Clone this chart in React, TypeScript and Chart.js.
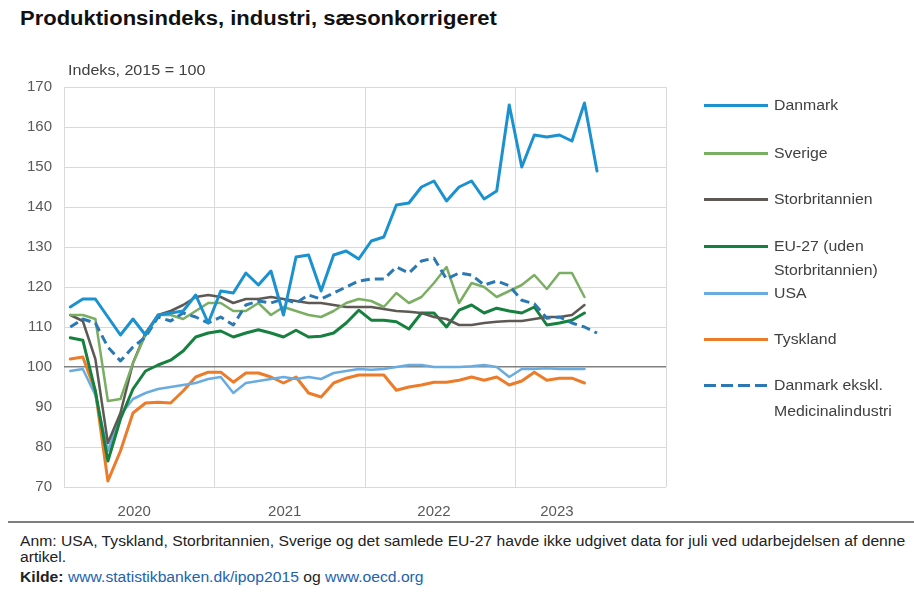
import React, { useEffect, useRef } from "react";
import { Chart, registerables } from "chart.js";

Chart.register(...registerables);

const FONT = '"Liberation Sans", Arial, sans-serif';

const titleText = "Produktionsindeks, industri, sæsonkorrigeret";
const unitText = "Indeks, 2015 = 100";
const noteText1 =
  "Anm: USA, Tyskland, Storbritannien, Sverige og det samlede EU-27 havde ikke udgivet data for juli ved udarbejdelsen af denne";
const noteText2 = "artikel.";
const sourceLabel = "Kilde: ";
const sourceLink1 = "www.statistikbanken.dk/ipop2015";
const sourceMid = " og ";
const sourceLink2 = "www.oecd.org";

// x axis: months since Jan 2020 (0..48), year boundaries and year label positions
const yearLabels = ["2020", "2021", "2022", "2023"];
const yearLabelPos = [5.6, 17.6, 29.5, 39.3];
const yearBoundaries = [0, 12, 24, 36, 48];
const yMin = 70;
const yMax = 170;
const yStep = 10;
const baseLine = 100;

// Monthly values, Jan 2020 onward
const danmark = [
  115, 117, 117, 112.5, 108, 112, 108, 113, 113.5, 114, 118, 111,
  119, 118.5, 123.5, 120.5, 124, 113, 127.5, 128, 119, 128, 129, 127,
  131.5, 132.5, 140.5, 141, 145, 146.5, 141.5, 145, 146.5, 142, 144, 165.5,
  150, 158, 157.5, 158, 156.5, 166, 149,
];
const sverige = [
  113, 113, 112, 91.5, 92, 101, 108, 113, 113, 112, 114, 116,
  116, 114, 114, 116, 113, 115, 114, 113, 112.5, 114, 116, 117,
  116.5, 115, 118.5, 116, 117.5, 121, 125, 116, 121, 120, 117.5, 119,
  120.5, 123, 119.5, 123.5, 123.5, 117.5,
];
const storbritannien = [
  113, 111.5, 102, 81, 88.5, 101, 108.5, 113, 114, 115.5, 117.5, 118,
  117.5, 116, 117, 117, 117.5, 117, 116.5, 116, 116, 115.5, 115, 115,
  115, 114.5, 114, 113.8, 113.5, 112.5, 112, 110.5, 110.5, 111, 111.3, 111.5,
  111.5, 112, 112.5, 112.5, 113, 115.5,
];
const eu27 = [
  107.3, 106.7, 94, 76.5, 87, 94.5, 99, 100.5, 101.7, 104, 107.5, 108.5,
  109, 107.5, 108.5, 109.3, 108.5, 107.5, 109.2, 107.5, 107.7, 108.5, 111, 114.2,
  111.7, 111.7, 111.3, 109.5, 113.5, 113.5, 110, 114.2, 115.5, 113.5, 114.7, 114,
  113.5, 115, 110.5, 111, 111.7, 113.5,
];
const usa = [
  99, 99.5, 93, 79, 88, 92, 93.5, 94.5, 95, 95.5, 96, 97,
  97.5, 93.5, 96, 96.5, 97, 97.5, 97, 97.5, 97, 98.5, 99, 99.5,
  99.3, 99.5, 100, 100.5, 100.5, 100, 100, 100, 100.2, 100.5, 100, 97.5,
  99.5, 99.5, 99.7, 99.5, 99.5, 99.5,
];
const tyskland = [
  102, 102.5, 94, 71.5, 79, 88.5, 91, 91.2, 91, 94, 97.5, 98.7,
  98.7, 96.2, 98.5, 98.5, 97.5, 96, 97.5, 93.5, 92.5, 96, 97.2, 98,
  98, 98, 94.2, 95, 95.5, 96.2, 96.2, 96.7, 97.5, 96.7, 97.5, 95.5,
  96.5, 98.7, 96.7, 97.2, 97.2, 96,
];
const danmarkEksMedicin = [
  110, 112, 111, 105, 101.5, 105, 107.5, 112.5, 111.5, 113.5, 112.5, 111,
  112.5, 110.5, 115.5, 116.5, 116, 117, 116, 118, 117, 118.5, 120, 121.5,
  122, 122, 125, 123.5, 126.5, 127.2, 122, 123.5, 123, 120.5, 121.5, 120.3,
  116.7, 115.8, 112.2, 112.5, 111, 110, 108.5,
];

const seriesNames = [
  "Danmark",
  "Sverige",
  "Storbritannien",
  "EU-27 (uden Storbritannien)",
  "USA",
  "Tyskland",
  "Danmark ekskl. Medicinalindustri",
];
const seriesValues = [danmark, sverige, storbritannien, eu27, usa, tyskland, danmarkEksMedicin];
const seriesColors = ["#1B91D0", "#7AAE62", "#5E5955", "#16803F", "#6AACE0", "#EC7B2A", "#2A78B4"];
const seriesWidths = [3, 2.5, 2.5, 3, 2.5, 3, 3];
const seriesDashed = [false, false, false, false, false, false, true];

// legend layout (text lines per entry)
const legendLines = [
  ["Danmark"],
  ["Sverige"],
  ["Storbritannien"],
  ["EU-27 (uden", "Storbritannien)"],
  ["USA"],
  ["Tyskland"],
  ["Danmark ekskl.", "Medicinalindustri"],
];
const legendY = [105, 153, 199, 246, 293, 339, 385];
const legendLineGap = [0, 0, 0, 24, 0, 0, 26];

const stretch = (sx: number): React.CSSProperties => ({
  transform: `scaleX(${sx})`,
  transformOrigin: "left center",
});

export default function App() {
  const canvasRef = useRef<HTMLCanvasElement | null>(null);

  useEffect(() => {
    const canvas = canvasRef.current;
    if (!canvas) return;
    const datasets = seriesValues.map((vals, k) => ({
      label: seriesNames[k],
      data: vals.map((v, i) => ({ x: i + 0.5, y: v })),
      borderColor: seriesColors[k],
      backgroundColor: seriesColors[k],
      borderWidth: seriesWidths[k],
      borderDash: seriesDashed[k] ? [9, 5] : [],
      borderCapStyle: seriesDashed[k] ? "butt" : "round",
      borderJoinStyle: "round",
      pointRadius: 0,
      tension: 0,
      fill: false,
      order: k === 0 ? 0 : k === 6 ? 1 : 2,
    }));

    const tickVals = [...yearBoundaries, ...yearLabelPos].sort((a, b) => a - b);

    const chart = new Chart(canvas, {
      type: "line",
      data: { datasets: datasets as any },
      options: {
        animation: false,
        responsive: false,
        devicePixelRatio: 1,
        layout: { padding: { top: 87, right: 248, left: 0, bottom: 0 } },
        plugins: { legend: { display: false }, tooltip: { enabled: false } },
        scales: {
          x: {
            type: "linear",
            min: 0,
            max: 48,
            afterBuildTicks: (scale: any) => {
              scale.ticks = tickVals.map((v) => ({ value: v }));
            },
            afterFit: (scale: any) => {
              scale.height = 33;
            },
            ticks: {
              autoSkip: false,
              maxRotation: 0,
              padding: 16,
              color: "#595959",
              font: { family: FONT, size: 15 },
              callback: (v: any) => {
                const k = yearLabelPos.indexOf(Number(v));
                return k >= 0 ? yearLabels[k] : "";
              },
            },
            grid: {
              drawTicks: false,
              color: (ctx: any) =>
                ctx.tick && yearBoundaries.includes(ctx.tick.value) ? "#D9D9D9" : "rgba(0,0,0,0)",
            },
            border: { display: false },
          },
          y: {
            min: yMin,
            max: yMax,
            afterFit: (scale: any) => {
              scale.width = 64;
            },
            ticks: {
              stepSize: yStep,
              padding: 12,
              color: "#595959",
              font: { family: FONT, size: 15 },
            },
            grid: {
              drawTicks: false,
              color: (ctx: any) => (ctx.tick && ctx.tick.value === baseLine ? "#808080" : "#D9D9D9"),
              lineWidth: (ctx: any) => (ctx.tick && ctx.tick.value === baseLine ? 1.5 : 1),
            },
            border: { display: false },
          },
        },
      },
    });
    return () => chart.destroy();
  }, []);

  return (
    <div
      style={{
        position: "fixed",
        left: 0,
        top: 0,
        width: 914,
        height: 595,
        background: "#fff",
        fontFamily: FONT,
        overflow: "hidden",
      }}
    >
      <div
        style={{
          position: "absolute",
          left: 20,
          top: 6,
          fontSize: 20,
          lineHeight: "24px",
          fontWeight: "bold",
          color: "#111",
          whiteSpace: "nowrap",
          ...stretch(1.1),
        }}
      >
        {titleText}
      </div>
      <canvas
        ref={canvasRef}
        width={914}
        height={520}
        style={{ position: "absolute", left: 0, top: 0, width: 914, height: 520 }}
      />
      <div
        style={{
          position: "absolute",
          left: 68,
          top: 61,
          fontSize: 14,
          lineHeight: "18px",
          color: "#404040",
          whiteSpace: "nowrap",
          ...stretch(1.15),
        }}
      >
        {unitText}
      </div>
      {legendLines.map((lines, k) => (
        <React.Fragment key={k}>
          <div
            style={{
              position: "absolute",
              left: 704,
              top: legendY[k] - 1.5,
              width: 64,
              height: 3,
              background: seriesDashed[k]
                ? `repeating-linear-gradient(90deg, ${seriesColors[k]} 0 12px, transparent 12px 17px)`
                : seriesColors[k],
            }}
          />
          {lines.map((t, j) => (
            <div
              key={j}
              style={{
                position: "absolute",
                left: 774,
                top: legendY[k] + j * legendLineGap[k] - 9,
                fontSize: 14,
                lineHeight: "18px",
                color: "#404040",
                whiteSpace: "nowrap",
                ...stretch(1.13),
              }}
            >
              {t}
            </div>
          ))}
        </React.Fragment>
      ))}
      <div
        style={{
          position: "absolute",
          left: 8,
          top: 521,
          width: 906,
          height: 2,
          background: "#7F7F7F",
        }}
      />
      <div
        style={{
          position: "absolute",
          left: 20,
          top: 533,
          fontSize: 14,
          lineHeight: "16px",
          color: "#222",
          whiteSpace: "nowrap",
          ...stretch(1.12),
        }}
      >
        <div>{noteText1}</div>
        <div>{noteText2}</div>
      </div>
      <div
        style={{
          position: "absolute",
          left: 20,
          top: 569,
          fontSize: 14,
          lineHeight: "16px",
          color: "#222",
          whiteSpace: "nowrap",
          ...stretch(1.12),
        }}
      >
        <span style={{ fontWeight: "bold" }}>{sourceLabel}</span>
        <span style={{ color: "#2262B0" }}>{sourceLink1}</span>
        <span>{sourceMid}</span>
        <span style={{ color: "#2262B0" }}>{sourceLink2}</span>
      </div>
    </div>
  );
}
